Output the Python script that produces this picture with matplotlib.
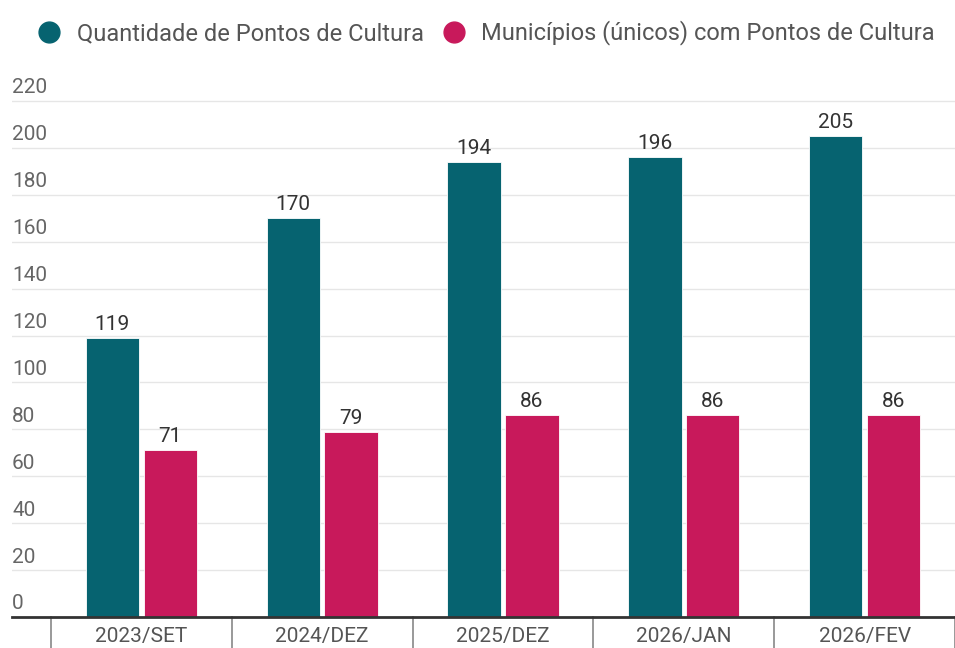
import matplotlib.pyplot as plt
from matplotlib.lines import Line2D
import numpy as np

plt.rcParams['font.family'] = ['Roboto', 'DejaVu Sans']

# données
periodos = ['2023/SET', '2024/DEZ', '2025/DEZ', '2026/JAN', '2026/FEV']
pontos = [119, 170, 194, 196, 205]
municipios = [71, 79, 86, 86, 86]

cor_pontos = '#066370'
cor_munic = '#C8195B'

fig = plt.figure(figsize=(9.55, 6.48), dpi=100)
ax = fig.add_axes([12 / 955, 31 / 648, 943 / 955, (617 - 101) / 648 * 221 / 220])

x = np.arange(len(periodos))
w = 0.295
off = 0.16
b1 = ax.bar(x - off, pontos, w, color=cor_pontos, edgecolor='white', linewidth=0.6, zorder=3)
b2 = ax.bar(x + off, municipios, w, color=cor_munic, edgecolor='white', linewidth=0.6, zorder=3)

for bars in (b1, b2):
    for r in bars:
        ax.annotate(f'{int(r.get_height())}', (r.get_x() + r.get_width() / 2, r.get_height()),
                    xytext=(0, 3), textcoords='offset points', ha='center', va='bottom',
                    fontsize=15, color='#333333')

ax.set_xlim(-0.715, 4.5)
ax.set_ylim(0, 221)

# grille horizontale + étiquettes au-dessus des lignes
for v in range(20, 221, 20):
    ax.axhline(v, color='#e6e6e6', lw=1, zorder=1)
for v in range(0, 221, 20):
    ax.text(0, v + 1.5, str(v), transform=ax.get_yaxis_transform(), ha='left', va='bottom',
            fontsize=15, color='#666666')

ax.set_yticks([])
ax.set_xticks([])
for s in ['top', 'right', 'left']:
    ax.spines[s].set_visible(False)
ax.spines['bottom'].set_color('#333333')
ax.spines['bottom'].set_linewidth(2)
ax.spines['bottom'].set_zorder(4)

# séparateurs des catégories sous l'axe
trans = ax.get_xaxis_transform()
for b in np.arange(-0.5, 4.6, 1):
    ax.plot([b, b], [0, -0.07], transform=trans, color='#888888', lw=1.2, clip_on=False)
for i, p in enumerate(periodos):
    ax.text(i, -0.037, p, transform=trans, ha='center', va='center', fontsize=15, color='#555555')

handles = [Line2D([], [], marker='o', ls='', markersize=15, color=cor_pontos),
           Line2D([], [], marker='o', ls='', markersize=15, color=cor_munic)]
fig.legend(handles, ['Quantidade de Pontos de Cultura', 'Municípios (únicos) com Pontos de Cultura'],
           loc='center', bbox_to_anchor=(0.503, 1 - 33 / 648), ncol=2, frameon=False,
           fontsize=17, labelcolor='#555555', handletextpad=0.15, columnspacing=0.3)

fig.savefig('out.png', dpi=100)
